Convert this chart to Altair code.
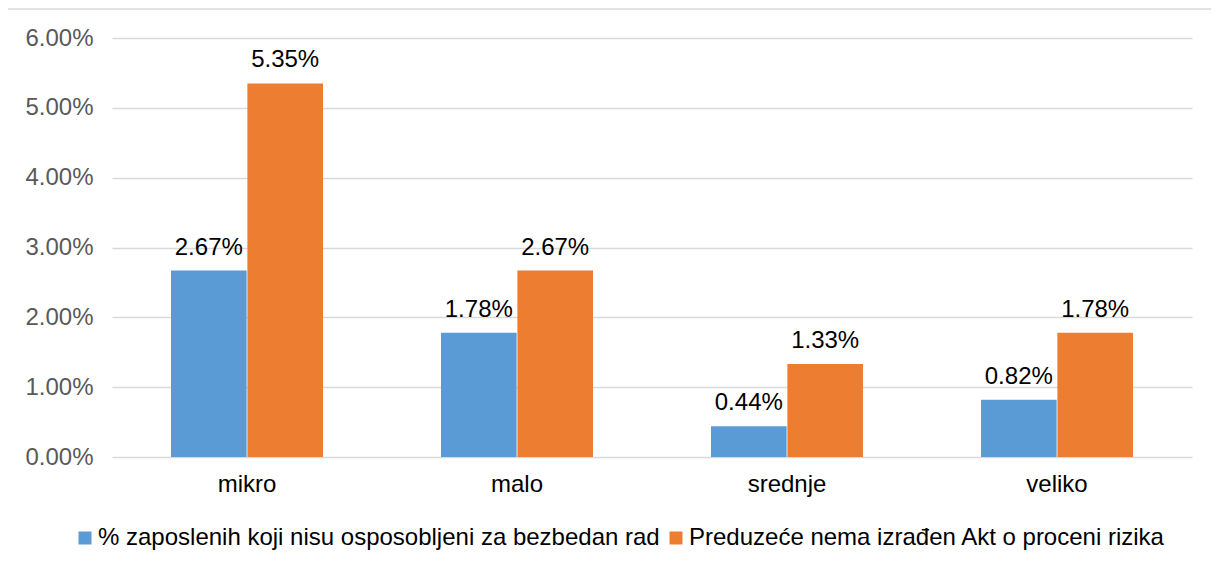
import altair as alt
import pandas as pd

categories = ["mikro", "malo", "srednje", "veliko"]
series_names = [
    "% zaposlenih koji nisu osposobljeni za bezbedan rad",
    "Preduzeće nema izrađen Akt o proceni rizika",
]
series_a = [0.0267, 0.0178, 0.0044, 0.0082]
series_b = [0.0535, 0.0267, 0.0133, 0.0178]
y_ticks = [0.0, 0.01, 0.02, 0.03, 0.04, 0.05, 0.06]
colors = ["#5B9BD5", "#ED7D31"]

rows = []
for c, a, b in zip(categories, series_a, series_b):
    rows.append({"cat": c, "series": series_names[0], "value": a})
    rows.append({"cat": c, "series": series_names[1], "value": b})
df = pd.DataFrame(rows)

FONT = "Liberation Sans"
FS = 24

x_enc = alt.X(
    "cat:N",
    sort=categories,
    title=None,
    scale=alt.Scale(paddingInner=0.437, paddingOuter=0.2185),
    axis=alt.Axis(
        labelAngle=0, labelFontSize=FS, labelColor="#000000", labelFont=FONT,
        ticks=False, domain=False, grid=False, labelPadding=15,
    ),
)
xoff = alt.XOffset("series:N", sort=series_names, scale=alt.Scale(paddingInner=0.01))
y_enc = alt.Y(
    "value:Q",
    title=None,
    scale=alt.Scale(domain=[0, 0.06], nice=False),
    axis=alt.Axis(
        values=y_ticks, format=".2%", labelFontSize=FS, labelColor="#595959",
        labelFont=FONT, ticks=False, domain=False, grid=True, gridColor="#D9D9D9",
        gridWidth=1.3, labelPadding=19,
    ),
)
color_enc = alt.Color(
    "series:N",
    sort=series_names,
    scale=alt.Scale(domain=series_names, range=colors),
    legend=alt.Legend(
        title=None, orient="none", legendX=-39, legendY=488, direction="horizontal",
        symbolType="square", symbolSize=169, symbolStrokeWidth=0, labelFontSize=FS,
        labelFont=FONT, labelColor="#000000", labelOffset=1, columnPadding=4,
        padding=0, labelLimit=900,
    ),
)

base = alt.Chart(df)
bars = base.mark_bar().encode(x=x_enc, xOffset=xoff, y=y_enc, color=color_enc)
labels = base.mark_text(
    baseline="alphabetic", dy=-16, fontSize=FS, font=FONT, color="#000000"
).encode(
    x=alt.X("cat:N", sort=categories),
    xOffset=alt.XOffset("series:N", sort=series_names),
    y="value:Q",
    text=alt.Text("value:Q", format=".2%"),
)

frame_data = alt.Data(values=[{"k": 1}])
top_line = alt.Chart(frame_data).mark_rule(color="#D9D9D9", strokeWidth=1.3).encode(
    x=alt.value(-105), x2=alt.value(1100), y=alt.value(-29)
)
left_line = alt.Chart(frame_data).mark_rule(color="#D9D9D9", strokeWidth=1.3).encode(
    x=alt.value(-105), y=alt.value(-29), y2=alt.value(530)
)

chart = alt.layer(top_line, left_line, bars, labels).properties(
    width=1080,
    height=419,
    autosize=alt.AutoSizeParams(type="none"),
    padding={"left": 104, "top": 30, "right": 19, "bottom": 100},
).configure(font=FONT).configure_view(stroke=None)

chart.save("out.html", embed_options={"renderer": "svg", "actions": False})
